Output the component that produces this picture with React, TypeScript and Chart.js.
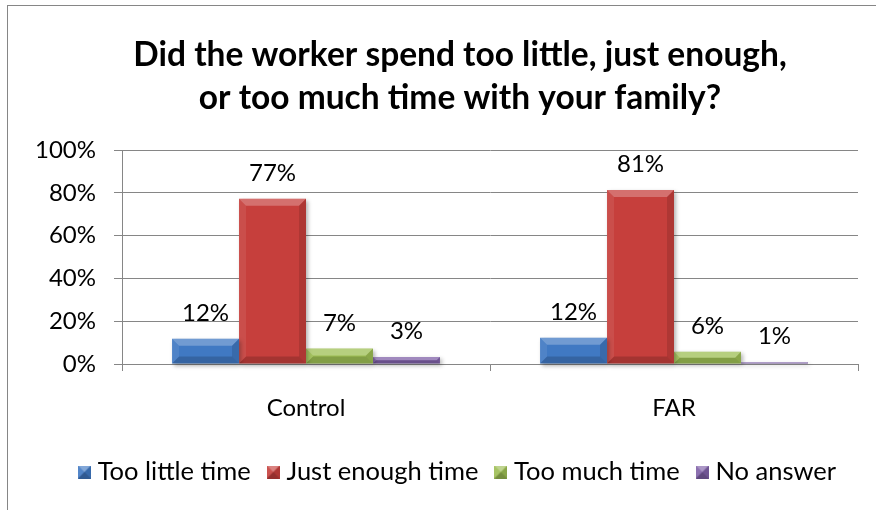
import React, { useEffect, useRef } from 'react';
import { Chart, registerables } from 'chart.js';

Chart.register(...registerables);

const categories = ['Control', 'FAR'];
const seriesNames = ['Too little time', 'Just enough time', 'Too much time', 'No answer'];
const tooLittle = [11.8, 12.3];
const justEnough = [77.2, 81.3];
const tooMuch = [7.2, 5.7];
const noAnswer = [3.3, 0.8];
const seriesColors = ['#4079c3', '#c63f3c', '#9dbe53', '#7f60a8'];
const titleLines = ['Did the worker spend too little, just enough,', 'or too much time with your family?'];
const yMin = 0;
const yMax = 100;
const yStep = 20;

const FONT = 'Lato, "Open Sans", sans-serif';

function makeLegendBox(color: string): HTMLCanvasElement {
  const c = document.createElement('canvas');
  const s = 13;
  c.width = s;
  c.height = s;
  const g = c.getContext('2d')!;
  g.fillStyle = color;
  g.fillRect(0, 0, s, s);
  const m = s / 2;
  const tri = (pts: number[][], fill: string) => {
    g.beginPath();
    g.moveTo(pts[0][0], pts[0][1]);
    for (let i = 1; i < pts.length; i++) g.lineTo(pts[i][0], pts[i][1]);
    g.closePath();
    g.fillStyle = fill;
    g.fill();
  };
  tri([[0, 0], [s, 0], [m, m]], 'rgba(255,255,255,0.35)');
  tri([[0, s], [s, s], [m, m]], 'rgba(0,0,0,0.25)');
  tri([[0, 0], [0, s], [m, m]], 'rgba(255,255,255,0.1)');
  tri([[s, 0], [s, s], [m, m]], 'rgba(0,0,0,0.12)');
  return c;
}

const barDecor = {
  id: 'barDecor',
  beforeDatasetsDraw(chart: any) {
    const ctx = chart.ctx;
    ctx.save();
    ctx.shadowColor = 'rgba(0,0,0,0.3)';
    ctx.shadowBlur = 4;
    ctx.shadowOffsetX = 2;
    ctx.shadowOffsetY = 2;
  },
  afterDatasetsDraw(chart: any) {
    const ctx = chart.ctx;
    ctx.restore();
    chart.data.datasets.forEach((ds: any, di: number) => {
      const meta = chart.getDatasetMeta(di);
      meta.data.forEach((el: any, i: number) => {
        const { x, y, base, width } = el.getProps(['x', 'y', 'base', 'width'], true);
        const l = x - width / 2;
        const r = x + width / 2;
        const t = Math.min(y, base);
        const b = Math.max(y, base);
        const bv = Math.min(7, (b - t) / 2, width / 2);
        const poly = (pts: number[][], fill: string) => {
          ctx.beginPath();
          ctx.moveTo(pts[0][0], pts[0][1]);
          for (let k = 1; k < pts.length; k++) ctx.lineTo(pts[k][0], pts[k][1]);
          ctx.closePath();
          ctx.fillStyle = fill;
          ctx.fill();
        };
        poly([[l, t], [r, t], [r - bv, t + bv], [l + bv, t + bv]], 'rgba(255,255,255,0.26)');
        poly([[l, b], [r, b], [r - bv, b - bv], [l + bv, b - bv]], 'rgba(0,0,0,0.17)');
        poly([[l, t], [l + bv, t + bv], [l + bv, b - bv], [l, b]], 'rgba(255,255,255,0.08)');
        poly([[r, t], [r - bv, t + bv], [r - bv, b - bv], [r, b]], 'rgba(0,0,0,0.12)');
        const v = ds.data[i];
        ctx.save();
        ctx.font = `24px ${FONT}`;
        ctx.fillStyle = '#000';
        ctx.textAlign = 'center';
        ctx.textBaseline = 'alphabetic';
        ctx.fillText(`${Math.round(v)}%`, x, t - 18);
        ctx.restore();
      });
    });
  },
};

export default function App() {
  const ref = useRef<HTMLCanvasElement>(null);
  useEffect(() => {
    if (!ref.current) return;
    const boxes = seriesColors.map(makeLegendBox);
    const seriesData = [tooLittle, justEnough, tooMuch, noAnswer];
    const chart = new Chart(ref.current, {
      type: 'bar',
      data: {
        labels: categories,
        datasets: seriesNames.map((name, i) => ({
          label: name,
          data: seriesData[i],
          backgroundColor: seriesColors[i],
          borderWidth: 0,
          barPercentage: 1,
          categoryPercentage: 0.728,
          clip: false as any,
        })),
      },
      options: {
        responsive: false,
        maintainAspectRatio: false,
        animation: false,
        layout: { padding: { left: 0, right: 0, top: 0, bottom: 15.25 } },
        plugins: {
          tooltip: { enabled: false },
          title: {
            display: true,
            text: titleLines,
            color: '#000',
            font: { family: FONT, size: 33.5, weight: 'bold', lineHeight: '43px' as any },
            padding: { top: 27.5, bottom: 30.5 },
          },
          legend: {
            display: true,
            position: 'bottom',
            labels: {
              color: '#000',
              font: { family: FONT, size: 25.5 },
              usePointStyle: true,
              pointStyleWidth: 1,
              boxWidth: 13,
              boxHeight: 13,
              padding: 22,
              generateLabels: (ch: any) =>
                (Chart.defaults.plugins.legend.labels.generateLabels as any)(ch).map((l: any, i: number) => ({
                  ...l,
                  pointStyle: boxes[i],
                  fillStyle: seriesColors[i],
                  strokeStyle: 'transparent',
                  lineWidth: 0,
                })),
            },
          },
        },
        scales: {
          x: {
            type: 'category',
            grid: {
              display: true,
              drawOnChartArea: false,
              drawTicks: true,
              tickLength: 7,
              color: '#868686',
              offset: true,
            },
            border: { display: true, color: '#868686' },
            ticks: { color: '#000', font: { family: FONT, size: 24 }, padding: 23 },
            afterFit: (s: any) => {
              s.height = 73.25;
            },
          },
          y: {
            min: yMin,
            max: yMax,
            ticks: {
              stepSize: yStep,
              color: '#000',
              font: { family: FONT, size: 24 },
              padding: 18,
              callback: (v: any) => `${v}%`,
            },
            grid: { color: '#868686', tickLength: 8, lineWidth: 1 },
            border: { display: true, color: '#868686' },
            afterFit: (s: any) => {
              s.width = 114;
            },
          },
          y2: {
            position: 'right',
            display: true,
            ticks: { display: false },
            grid: { display: false },
            border: { display: false },
            afterFit: (s: any) => {
              s.width = 54;
            },
          },
        },
      },
      plugins: [barDecor],
    });
    return () => chart.destroy();
  }, []);

  return (
    <div style={{ position: 'fixed', left: 0, top: 0, width: 876, height: 510, overflow: 'hidden', background: '#fff' }}>
      <div
        style={{
          position: 'absolute',
          left: 7,
          top: 5,
          width: 920,
          height: 520,
          borderTop: '1px solid #868686',
          borderLeft: '1px solid #868686',
          boxSizing: 'border-box',
        }}
      >
        <canvas ref={ref} width={904} height={504} style={{ position: 'absolute', left: 0, top: 0, width: 904, height: 504 }} />
      </div>
    </div>
  );
}
